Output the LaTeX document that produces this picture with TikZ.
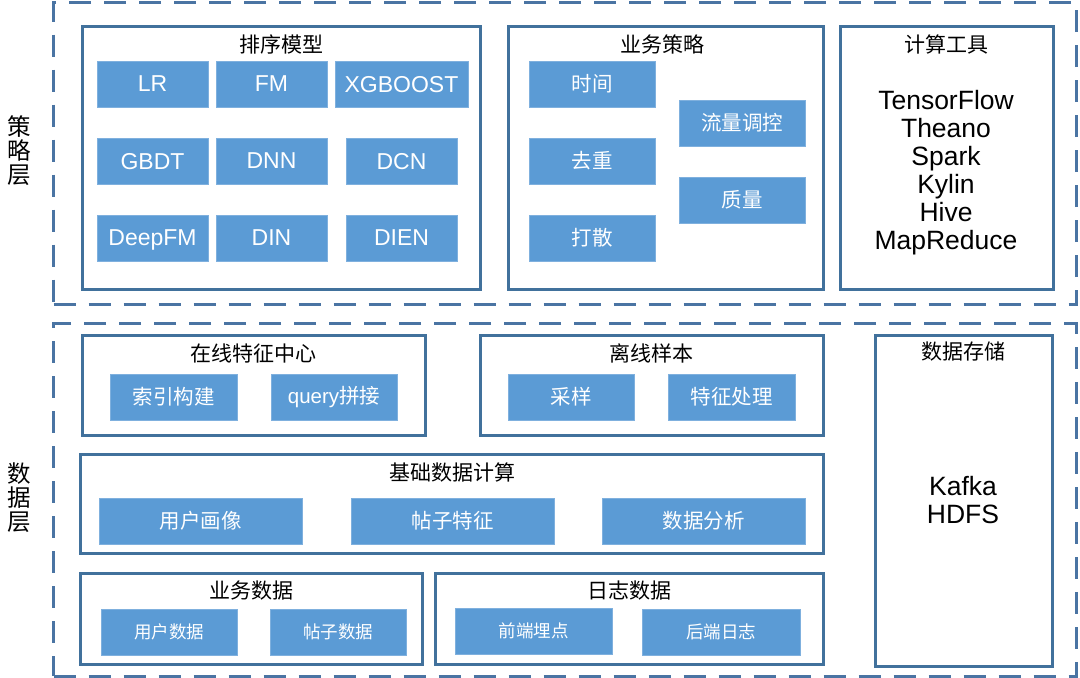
\documentclass[tikz,border=0pt]{standalone}
\usepackage{fontspec}
\setmainfont{Liberation Sans}
\newfontfamily\cjk{Noto Sans CJK SC}
\definecolor{edge}{HTML}{41719C}
\definecolor{dash}{HTML}{4A74A3}
\definecolor{fillb}{HTML}{5B9BD5}
\definecolor{fille}{HTML}{7FB0DE}
\newcommand\boxat[7]{\node[#6, minimum width={#4-#2}, minimum height={#5-#3}] (#1) at ({(#2+#4)/2},{(#3+#5)/2}) {#7};}
\begin{document}
\begin{tikzpicture}[x=1pt,y=-1pt,
  outer/.style={draw=dash, line width=3pt, dash pattern=on 22pt off 13pt, inner sep=0pt},
  grp/.style={draw=edge, line width=3pt, fill=white, inner sep=0pt},
  blk/.style={draw=fille, line width=0.8pt, fill=fillb, text=white, inner sep=0pt, font=\cjk\fontsize{20.5}{24}\selectfont},
  blkl/.style={blk, text depth=0pt, font=\fontsize{23}{26}\selectfont},
  blks/.style={blk, font=\cjk\fontsize{17.5}{20}\selectfont},
  ttl/.style={anchor=center, inner sep=0pt, font=\cjk\fontsize{21}{24}\selectfont},
  side/.style={anchor=center, inner sep=0pt, align=center, font=\cjk\fontsize{23.5}{24}\selectfont},
  big/.style={anchor=center, inner sep=0pt, align=center, font=\fontsize{26.5}{28}\selectfont}]
\useasboundingbox (0,0) rectangle (1080,678);
% outer dashed layers
\boxat{top}{53.5}{2}{1076}{304.5}{outer}{}
\boxat{bot}{53.5}{323.5}{1076}{676}{outer}{}
\node[side] (sl) at (19,151) {策\\略\\层};
\node[side] (dl) at (19,498) {数\\据\\层};
% ranking models
\boxat{rank}{82}{26}{480}{289}{grp}{}
\node[ttl] (rankt) at (281,44) {排序模型};
\boxat{lr}{97}{61}{208}{107}{blkl}{LR}
\boxat{fm}{216}{61}{327}{107}{blkl}{FM}
\boxat{xgb}{335}{61}{468}{107}{blkl}{XGBOOST}
\boxat{gbdt}{97}{138}{208}{184}{blkl}{GBDT}
\boxat{dnn}{216}{138}{327}{184}{blkl}{DNN}
\boxat{dcn}{346}{138}{457}{184}{blkl}{DCN}
\boxat{dfm}{97}{215}{208}{261}{blkl}{DeepFM}
\boxat{din}{216}{215}{327}{261}{blkl}{DIN}
\boxat{dien}{346}{215}{457}{261}{blkl}{DIEN}
% business strategy
\boxat{biz}{508}{26}{823}{289}{grp}{}
\node[ttl] (bizt) at (662,44) {业务策略};
\boxat{time}{529}{61}{655}{107}{blk}{时间}
\boxat{dedup}{529}{138}{655}{184}{blk}{去重}
\boxat{scat}{529}{215}{655}{261}{blk}{打散}
\boxat{flow}{679}{100}{805}{146}{blk}{流量调控}
\boxat{qual}{679}{177}{805}{223}{blk}{质量}
% tools
\boxat{tool}{840}{26}{1053}{289}{grp}{}
\node[ttl] (toolt) at (946,44) {计算工具};
\node[big] (toolx) at (946,173) {TensorFlow\\Theano\\Spark\\Kylin\\Hive\\MapReduce};
% online feature center
\boxat{onl}{82}{335}{425}{435}{grp}{}
\node[ttl] (onlt) at (253,353) {在线特征中心};
\boxat{idx}{110}{374}{237}{420}{blk}{索引构建}
\boxat{qry}{271}{374}{397}{420}{blk}{{\rmfamily\fontspec{Liberation Sans}query}拼接}
% offline samples
\boxat{off}{480}{335}{823}{435}{grp}{}
\node[ttl] (offt) at (651,353) {离线样本};
\boxat{samp}{508}{374}{634}{420}{blk}{采样}
\boxat{feat}{668}{374}{795}{420}{blk}{特征处理}
% basic data computing
\boxat{base}{80}{454}{823}{553}{grp}{}
\node[ttl] (baset) at (452,472) {基础数据计算};
\boxat{up}{99}{498}{302}{544}{blk}{用户画像}
\boxat{pf}{351}{498}{554}{544}{blk}{帖子特征}
\boxat{da}{602}{498}{805}{544}{blk}{数据分析}
% business data
\boxat{bd}{80}{573}{422}{664}{grp}{}
\node[ttl] (bdt) at (251,591) {业务数据};
\boxat{ud}{101}{609}{237}{655}{blks}{用户数据}
\boxat{pd}{270}{609}{406}{655}{blks}{帖子数据}
% log data
\boxat{ld}{435}{573}{823}{664}{grp}{}
\node[ttl] (ldt) at (629,591) {日志数据};
\boxat{fe}{455}{608}{612}{654}{blks}{前端埋点}
\boxat{be}{642}{609}{800}{655}{blks}{后端日志}
% storage
\boxat{st}{875}{335}{1052}{666}{grp}{}
\node[ttl] (stt) at (963,352) {数据存储};
\node[big] (stx) at (963,500) {Kafka\\HDFS};
\end{tikzpicture}
\end{document}
